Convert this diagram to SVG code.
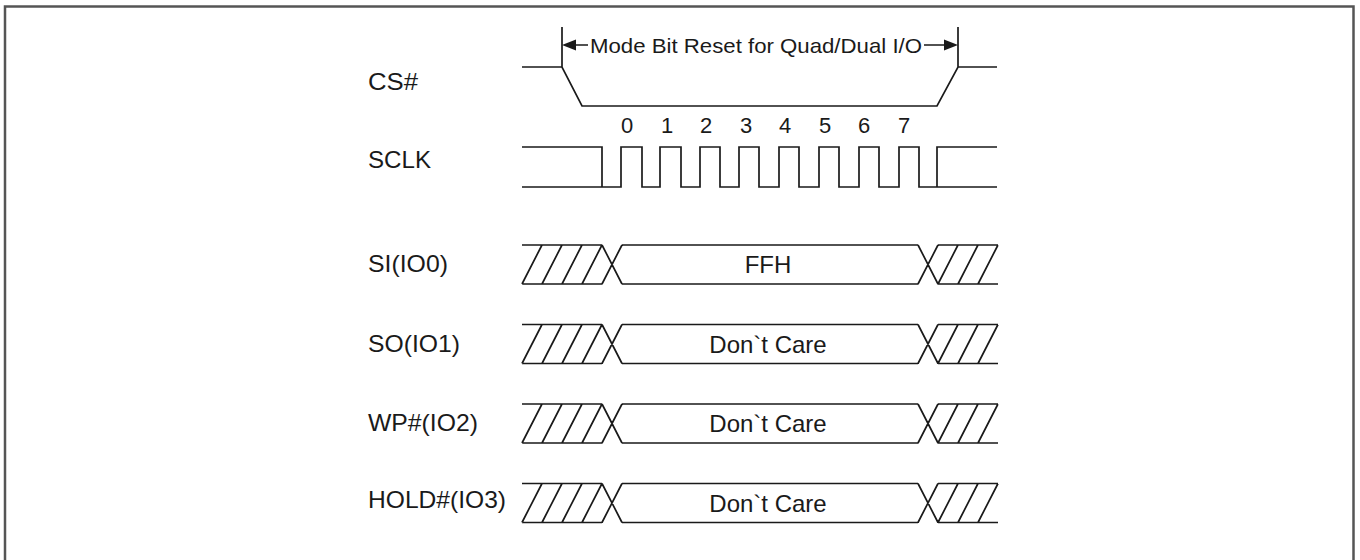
<svg xmlns="http://www.w3.org/2000/svg" xmlns:xlink="http://www.w3.org/1999/xlink" width="1360" height="560" viewBox="0 0 1360 560">
  <style>
    .sig { fill: none; stroke: #1a1a1a; stroke-width: 1.7; stroke-linejoin: miter; }
    .frame { fill: none; stroke: #555; stroke-width: 2.5; }
    .lbl { font-family: "Liberation Sans", Arial, sans-serif; font-size: 24px; fill: #1a1a1a; }
    .num { font-family: "Liberation Sans", Arial, sans-serif; font-size: 22px; fill: #1a1a1a; text-anchor: middle; }
    .dat { font-family: "Liberation Sans", Arial, sans-serif; font-size: 24px; fill: #1a1a1a; text-anchor: middle; }
    .dim { font-family: "Liberation Sans", Arial, sans-serif; font-size: 21px; fill: #1a1a1a; }
    .head { fill: #1a1a1a; stroke: none; }
  </style>
  <defs>
    <path id="bus" class="sig" d="M522,0 H602 M522,39 H602 M522,39 L542,0 M542,39 L562,0 M562,39 L582,0 M582,39 L602,0 M602,0 L622,39 M602,39 L622,0 M622,0 H918 M622,39 H918 M918,0 L938,39 M918,39 L938,0 M938,0 H998 M938,39 H998 M938,39 L958,0 M958,39 L978,0 M978,39 L998,0"/>
  </defs>
  <rect width="1360" height="560" fill="#fff"/>
  <rect class="frame" x="5" y="6.5" width="1348.5" height="570"/>

  <g id="cs">
    <text class="lbl" x="368" y="90" textLength="50" lengthAdjust="spacingAndGlyphs">CS#</text>
    <path class="sig" d="M522,67 H562 L582,106 H937 L958,67 H997 M562,27 V67 M958,27 V67"/>
  </g>

  <g id="sclk">
    <text class="lbl" x="368" y="168" textLength="63" lengthAdjust="spacingAndGlyphs">SCLK</text>
    <path class="sig" d="M522,147 H602 V187 M522,187 H621 V147 H642 V187 H660 V147 H681 V187 H700 V147 H720 V187 H739 V147 H759 V187 H779 V147 H799 V187 H819 V147 H839 V187 H859 V147 H879 V187 H899 V147 H919 V187 H937 V147 H997 M937,187 H997"/>
    <text class="num" x="627" y="133">0</text>
    <text class="num" x="667" y="133">1</text>
    <text class="num" x="706" y="133">2</text>
    <text class="num" x="746" y="133">3</text>
    <text class="num" x="785" y="133">4</text>
    <text class="num" x="825" y="133">5</text>
    <text class="num" x="864" y="133">6</text>
    <text class="num" x="904" y="133">7</text>
  </g>

  <g id="si">
    <text class="lbl" x="368" y="272" textLength="80" lengthAdjust="spacingAndGlyphs">SI(IO0)</text>
    <use xlink:href="#bus" href="#bus" transform="translate(0,245)"/>
    <text class="dat" x="768" y="273">FFH</text>
  </g>

  <g id="so">
    <text class="lbl" x="368" y="351.5" textLength="92" lengthAdjust="spacingAndGlyphs">SO(IO1)</text>
    <use xlink:href="#bus" href="#bus" transform="translate(0,324.5)"/>
    <text class="dat" x="768" y="352.5">Don`t Care</text>
  </g>

  <g id="wp">
    <text class="lbl" x="368" y="431" textLength="110" lengthAdjust="spacingAndGlyphs">WP#(IO2)</text>
    <use xlink:href="#bus" href="#bus" transform="translate(0,404)"/>
    <text class="dat" x="768" y="432">Don`t Care</text>
  </g>

  <g id="hold">
    <text class="lbl" x="368" y="508" textLength="138" lengthAdjust="spacingAndGlyphs">HOLD#(IO3)</text>
    <use xlink:href="#bus" href="#bus" transform="translate(0,483.5)"/>
    <text class="dat" x="768" y="511.5">Don`t Care</text>
  </g>

  <g id="connectors">
    <path class="sig" d="M574,45 H588 M924,45 H946"/>
    <polygon class="head" points="562,45 576,39.5 576,50.5"/>
    <polygon class="head" points="958,45 944,39.5 944,50.5"/>
    <text class="dim" x="590" y="53" textLength="332" lengthAdjust="spacingAndGlyphs">Mode Bit Reset for Quad/Dual I/O</text>
  </g>
</svg>
